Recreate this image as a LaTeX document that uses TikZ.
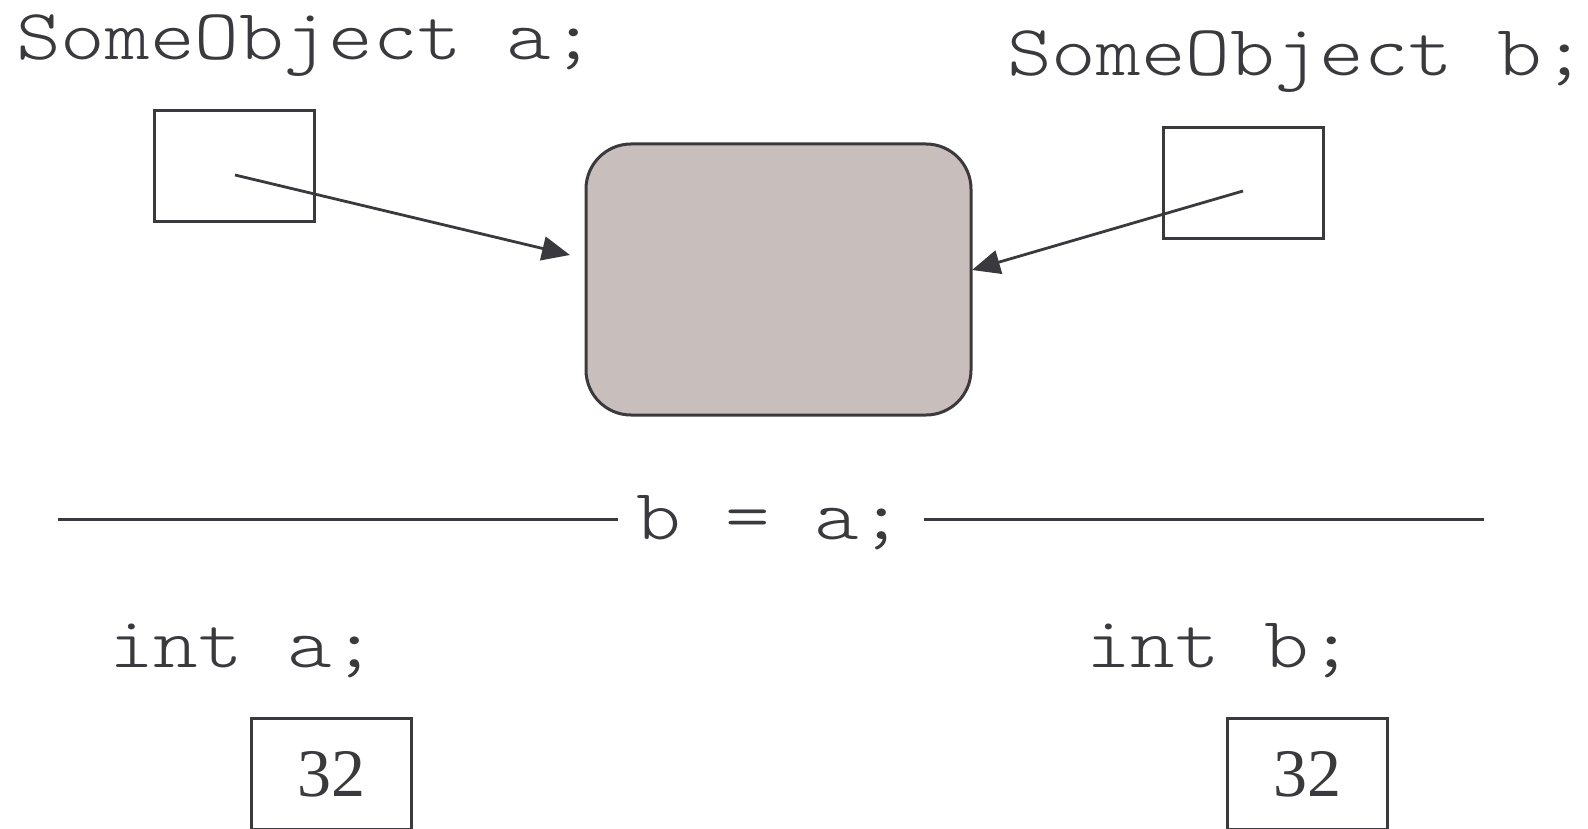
\documentclass[tikz,border=0pt]{standalone}
\usepackage{fontspec}
\setmainfont{Liberation Serif}
\newfontfamily\codefont{lmmonolt10-regular.otf}[FakeStretch=1.18]
\usetikzlibrary{arrows.meta}
\definecolor{ink}{HTML}{3A393D}
\definecolor{objfill}{HTML}{C8BFBC}
\begin{document}
\begin{tikzpicture}[x=1pt,y=-1pt,
  code/.style={font=\fontsize{72}{78}\selectfont\codefont, text=ink, inner sep=0pt, anchor=base west},
  cell/.style={draw=ink, line width=3pt, minimum width=160pt, minimum height=111pt, inner sep=0pt,
    font=\fontsize{68}{72}\selectfont, text=ink},
  object/.style={draw=ink, line width=3pt, fill=objfill, rounded corners=45pt,
    minimum width=385pt, minimum height=271pt, inner sep=0pt},
  ref/.style={draw=ink, line width=2.8pt, -{Triangle[length=28pt,width=24pt]}},
  rule/.style={draw=ink, line width=3pt}]
  \clip (0,0) rectangle (1588,829);
  \useasboundingbox (0,0) rectangle (1588,829);

  % reference declarations
  \node[code] (decla) at (16,59.5) {SomeObject a;};
  \node[code] (declb) at (1007,75.7) {SomeObject b;};
  \node[cell] (refa) at (234.5,166.5) {};
  \node[cell] (refb) at (1243,183) {};

  % the shared object
  \node[object] (obj) at (778.5,279.5) {};

  \coordinate (pa) at (235,175);
  \coordinate (pb) at (1243,191);
  \coordinate (ta) at (570,255);
  \coordinate (tb) at (972,270);
  \draw[ref] (pa) -- (ta);
  \draw[ref] (pb) -- (tb);

  % assignment divider
  \node[code] (assign) at (636,539.3) {b = a;};
  \coordinate (ruleLa) at (58,519.5);
  \coordinate (ruleLb) at (618,519.5);
  \coordinate (ruleRa) at (924,519.5);
  \coordinate (ruleRb) at (1484,519.5);
  \draw[rule] (ruleLa) -- (ruleLb);
  \draw[rule] (ruleRa) -- (ruleRb);

  % primitive declarations
  \node[code] (inta) at (109,667) {int a;};
  \node[code] (intb) at (1086,667) {int b;};
  \node[cell] (vala) at (331,774) {32};
  \node[cell] (valb) at (1307.5,774) {32};
\end{tikzpicture}
\end{document}
